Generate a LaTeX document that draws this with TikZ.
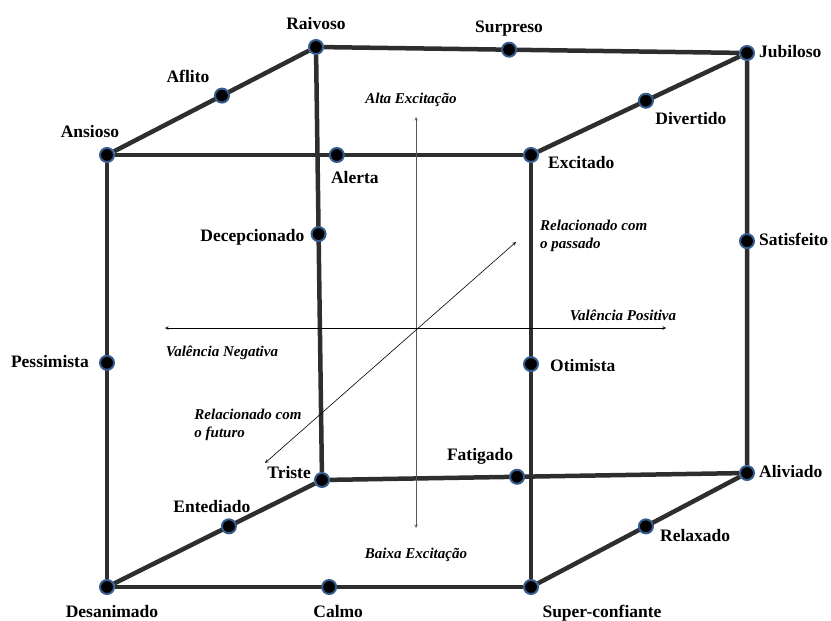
\documentclass[tikz,border=0pt]{standalone}
\usepackage{fontspec}
\setmainfont{Liberation Serif}
\usepackage{tikz}
\usetikzlibrary{arrows, positioning, calc, backgrounds}
\definecolor{dotblue}{RGB}{52,92,140}
\tikzstyle{emotion} = [circle, fill=black, draw=dotblue, line width=2pt, minimum size=14pt, inner sep=0pt]
\tikzstyle{cubeedge} = [line width=4.5pt, draw=black!82]
\tikzstyle{feeling} = [inner sep=0pt, text height=12pt, text depth=3pt, font=\fontsize{17.5}{20}\selectfont\bfseries]
\tikzstyle{axislabel} = [inner sep=0pt, align=left, font=\fontsize{15}{18}\selectfont\bfseries\itshape]
\tikzstyle{axisline} = [line width=0.6pt,<->,>=stealth]

\begin{document}
\begin{tikzpicture}[x=1pt, y=-1pt]
    \useasboundingbox (0,0) rectangle (831,621);

    \node[emotion] (ansioso) at (107,155) {};
    \node[emotion] (excitado) at (531,155) {};
    \node[emotion] (desanimado) at (107,587) {};
    \node[emotion] (superconfiante) at (531,587) {};
    \node[emotion] (raivoso) at (316,47) {};
    \node[emotion] (jubiloso) at (747,53) {};
    \node[emotion] (triste) at (322,480) {};
    \node[emotion] (aliviado) at (747,473) {};

    \node[emotion] (alerta) at ($(ansioso)!0.542!(excitado)$) {};
    \node[emotion] (surpreso) at ($(raivoso)!0.448!(jubiloso)$) {};
    \node[emotion] (aflito) at ($(ansioso)!0.55!(raivoso)$) {};
    \node[emotion] (divertido) at ($(excitado)!0.532!(jubiloso)$) {};
    \node[emotion] (decepcionado) at ($(raivoso)!0.432!(triste)$) {};
    \node[emotion] (satisfeito) at ($(jubiloso)!0.448!(aliviado)$) {};
    \node[emotion] (pessimista) at ($(ansioso)!0.481!(desanimado)$) {};
    \node[emotion] (otimista) at ($(excitado)!0.484!(superconfiante)$) {};
    \node[emotion] (entediado) at ($(desanimado)!0.567!(triste)$) {};
    \node[emotion] (relaxado) at ($(superconfiante)!0.532!(aliviado)$) {};
    \node[emotion] (fatigado) at ($(triste)!0.459!(aliviado)$) {};
    \node[emotion] (calmo) at ($(desanimado)!0.524!(superconfiante)$) {};

    \begin{pgfonlayer}{background}
        \draw[cubeedge] (ansioso) -- (excitado) -- (superconfiante) -- (desanimado) -- (ansioso);
        \draw[cubeedge] (raivoso) -- (jubiloso) -- (aliviado) -- (triste) -- (raivoso);
        \draw[cubeedge] (ansioso) -- (raivoso);
        \draw[cubeedge] (excitado) -- (jubiloso);
        \draw[cubeedge] (desanimado) -- (triste);
        \draw[cubeedge] (superconfiante) -- (aliviado);
    \end{pgfonlayer}

    \coordinate (alta) at (416,117);
    \coordinate (baixa) at (416,528);
    \coordinate (negativa) at (165,328);
    \coordinate (positiva) at (666,328);
    \coordinate (futuro) at (265,463);
    \coordinate (passado) at (516,242);

    \draw[axisline,draw=black!65] (baixa) -- (alta);
    \draw[axisline] (negativa) -- (positiva);
    \draw[axisline] (futuro) -- (passado);

    \node[feeling,above=6pt of raivoso] (raivosotxt) {Raivoso};
    \node[feeling,above=6pt of surpreso] (surpresotxt) {Surpreso};
    \node[feeling,right=4pt of jubiloso] (jubilosotxt) {Jubiloso};
    \node[feeling,above=2pt of aflito,xshift=-34pt] (aflitotxt) {Aflito};
    \node[feeling,above=6pt of ansioso,xshift=-17pt] (ansiosotxt) {Ansioso};
    \node[feeling,below=8pt of alerta,xshift=18pt] (alertatxt) {Alerta};
    \node[feeling,below=4pt of divertido,xshift=45pt] (divertidotxt) {Divertido};
    \node[feeling,right=9pt of excitado,yshift=-9pt] (excitadotxt) {Excitado};
    \node[feeling,left=6pt of decepcionado,yshift=-3pt] (decepcionadotxt) {Decepcionado};
    \node[feeling,right=4pt of satisfeito] (satisfeitotxt) {Satisfeito};
    \node[feeling,left=10pt of pessimista] (pessimistatxt) {Pessimista};
    \node[feeling,right=11pt of otimista,yshift=-3pt] (otimistatxt) {Otimista};
    \node[feeling,left=3pt of triste,yshift=6pt] (tristetxt) {Triste};
    \node[feeling,above=5pt of fatigado,xshift=-37pt] (fatigadotxt) {Fatigado};
    \node[feeling,right=4pt of aliviado] (aliviadotxt) {Aliviado};
    \node[feeling,above=3pt of entediado,xshift=-17pt] (entediadotxt) {Entediado};
    \node[feeling,right=6pt of relaxado,yshift=-11pt] (relaxadotxt) {Relaxado};
    \node[feeling,below=10pt of desanimado,xshift=5pt] (desanimadotxt) {Desanimado};
    \node[feeling,below=10pt of calmo,xshift=9pt] (calmotxt) {Calmo};
    \node[feeling,below=10pt of superconfiante,xshift=71pt] (superconfiantetxt) {Super-confiante};

    \node[axislabel,above=10pt of alta,xshift=-5pt] (altatxt) {Alta Excitação};
    \node[axislabel,below=20pt of baixa] (baixatxt) {Baixa Excitação};
    \node[axislabel,above=7pt of positiva,xshift=-43pt] (positivatxt) {Valência Positiva};
    \node[axislabel,below=18pt of negativa,xshift=57pt] (negativatxt) {Valência Negativa};
    \node[axislabel,right=24pt of passado,yshift=6pt] (passadotxt) {Relacionado com\\o passado};
    \node[axislabel,above=22pt of futuro,xshift=-17pt] (futurotxt) {Relacionado com\\o futuro};
\end{tikzpicture}
\end{document}
